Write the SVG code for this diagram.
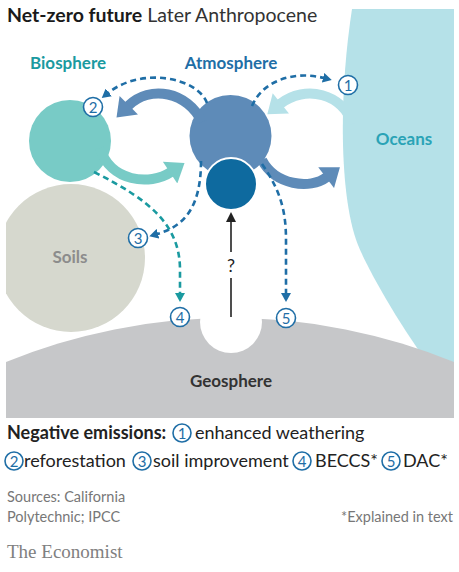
<svg xmlns="http://www.w3.org/2000/svg" width="459" height="572" viewBox="0 0 459 572">
<style>
.t{font-family:Lato,"Open Sans","Liberation Sans",sans-serif}
.lbl{font-size:17px;font-weight:700}
.num{font-family:Lato,"Open Sans","Liberation Sans",sans-serif;font-size:15px;fill:#1f6ea6;text-anchor:middle}
.nc{fill:#fff;stroke:#1f6ea6;stroke-width:1.6}
.solid{fill:none;stroke-width:10}
.dash{fill:none;stroke-width:2.6;stroke-dasharray:6 4}
.leg{font-size:18px;fill:#222}
.src{font-size:14.5px;fill:#777}
</style>
<defs>
<clipPath id="pic"><rect x="6" y="9" width="448" height="409"/></clipPath>
<marker id="hSteel" markerUnits="userSpaceOnUse" markerWidth="20" markerHeight="26" refX="1" refY="12" orient="auto" viewBox="0 0 16 24"><path d="M0,0 L16,12 L0,24 z" fill="#5e8bb8"/></marker>
<marker id="hTeal" markerUnits="userSpaceOnUse" markerWidth="20" markerHeight="26" refX="1" refY="12" orient="auto" viewBox="0 0 16 24"><path d="M0,0 L16,12 L0,24 z" fill="#78cbc6"/></marker>
<marker id="hLight" markerUnits="userSpaceOnUse" markerWidth="20" markerHeight="26" refX="1" refY="12" orient="auto" viewBox="0 0 16 24"><path d="M0,0 L16,12 L0,24 z" fill="#b5e1e8"/></marker>
<marker id="dBlue" markerUnits="userSpaceOnUse" markerWidth="9" markerHeight="10" refX="1" refY="5" orient="auto" viewBox="0 0 9 10"><path d="M0,0 L9,5 L0,10 z" fill="#1f6ea6"/></marker>
<marker id="dTeal" markerUnits="userSpaceOnUse" markerWidth="9" markerHeight="10" refX="1" refY="5" orient="auto" viewBox="0 0 9 10"><path d="M0,0 L9,5 L0,10 z" fill="#1a9aa0"/></marker>
<marker id="dBlack" markerUnits="userSpaceOnUse" markerWidth="10" markerHeight="10" refX="1" refY="5" orient="auto" viewBox="0 0 10 10"><path d="M0,0 L10,5 L0,10 z" fill="#222"/></marker>
</defs>

<text class="t" x="7" y="22" font-size="19.5"><tspan font-weight="700" fill="#1a1a1a">Net-zero future</tspan><tspan fill="#333"> Later Anthropocene</tspan></text>

<g clip-path="url(#pic)">
  <g id="oceans">
    <path d="M352,9 C338,100 340,200 358,245 C366,265 395,320 440,380 L454,380 L454,9 Z" fill="#b5e1e8"/>
  </g>
  <g id="soils">
    <circle cx="71" cy="258" r="74" fill="#d6d8ce"/>
  </g>
  <g id="geosphere">
    <circle cx="230" cy="910" r="592" fill="#c6c7c9"/>
    <circle cx="231" cy="322" r="31" fill="#fff"/>
  </g>
</g>

<g id="biosphere">
  <circle cx="70" cy="141" r="41" fill="#78cbc6"/>
</g>
<g id="atmosphere">
  <circle cx="230.5" cy="136" r="41" fill="#5e8bb8"/>
</g>
<g id="ocean-carbon">
  <circle cx="231" cy="184" r="26" fill="#0e6a9f" stroke="#fff" stroke-width="2"/>
</g>

<g id="connectors">
  <path class="solid" stroke="#5e8bb8" d="M202,122 C188,92 150,84 128,106" marker-end="url(#hSteel)"/>
  <path class="solid" stroke="#b5e1e8" d="M352,124 C344,94 305,84 280,104" marker-end="url(#hLight)"/>
  <path class="solid" stroke="#78cbc6" d="M100,148 C110,182 150,186 171,172" marker-end="url(#hTeal)"/>
  <path class="solid" stroke="#5e8bb8" d="M262,160 C275,185 310,190 327,177" marker-end="url(#hSteel)"/>

  <path class="dash" stroke="#1f6ea6" d="M252,106 C262,82 292,70 324,78" marker-end="url(#dBlue)"/>
  <path class="dash" stroke="#1f6ea6" d="M207,103 C198,78 142,66 108,93" marker-end="url(#dBlue)"/>
  <path class="dash" stroke="#1f6ea6" d="M201,161 C201,205 186,226 157,234" marker-end="url(#dBlue)"/>
  <path class="dash" stroke="#1a9aa0" d="M94,172 C150,200 180,225 180,270 L180,294" marker-end="url(#dTeal)"/>
  <path class="dash" stroke="#1f6ea6" d="M262,164 C280,190 286,210 286,240 L286,294" marker-end="url(#dBlue)"/>

  <path d="M231,317 L231,278" stroke="#222" stroke-width="1.6" fill="none"/>
  <path d="M231,252 L231,221" stroke="#222" stroke-width="1.6" fill="none" marker-end="url(#dBlack)"/>
  <text class="t" x="231" y="272" font-size="18" text-anchor="middle" fill="#222">?</text>
</g>

<g id="labels">
  <text class="t lbl" x="30" y="69" fill="#1a9aa0">Biosphere</text>
  <text class="t lbl" x="231" y="69" fill="#1f6ea6" text-anchor="middle">Atmosphere</text>
  <text class="t lbl" x="404" y="145" fill="#2aa3b6" text-anchor="middle">Oceans</text>
  <text class="t" x="70" y="263" font-size="17" font-weight="700" fill="#8c8c8c" text-anchor="middle">Soils</text>
  <text class="t" x="231" y="387" font-size="17" font-weight="700" fill="#333" text-anchor="middle">Geosphere</text>
</g>

<g id="n1"><circle class="nc" cx="348" cy="85" r="9.5"/><text class="num" x="348" y="90.5">1</text></g>
<g id="n2"><circle class="nc" cx="93" cy="107" r="9.5"/><text class="num" x="93" y="112.5">2</text></g>
<g id="n3"><circle class="nc" cx="138" cy="238" r="9.5"/><text class="num" x="138" y="243.5">3</text></g>
<g id="n4"><circle class="nc" cx="180" cy="317" r="9.5"/><text class="num" x="180" y="322.5">4</text></g>
<g id="n5"><circle class="nc" cx="286" cy="318" r="9.5"/><text class="num" x="286" y="323.5">5</text></g>

<g id="legend">
  <text class="t leg" x="7" y="439" font-weight="700">Negative emissions:</text>
  <circle class="nc" cx="182" cy="433" r="9"/><text class="num" x="182" y="438.5">1</text>
  <text class="t leg" x="195" y="439">enhanced weathering</text>
  <circle class="nc" cx="14" cy="461" r="9"/><text class="num" x="14" y="466.5">2</text>
  <text class="t leg" x="24" y="467">reforestation</text>
  <circle class="nc" cx="142" cy="461" r="9"/><text class="num" x="142" y="466.5">3</text>
  <text class="t leg" x="153" y="467">soil improvement</text>
  <circle class="nc" cx="302" cy="461" r="9"/><text class="num" x="302" y="466.5">4</text>
  <text class="t leg" x="315" y="467">BECCS*</text>
  <circle class="nc" cx="391" cy="461" r="9"/><text class="num" x="391" y="466.5">5</text>
  <text class="t leg" x="403" y="467">DAC*</text>
</g>

<g id="footer">
  <text class="t src" x="7" y="502">Sources: California</text>
  <text class="t src" x="7" y="522">Polytechnic; IPCC</text>
  <text class="t src" x="453" y="522" text-anchor="end">*Explained in text</text>
  <text x="7" y="558" font-family="'Liberation Serif','DejaVu Serif',serif" font-size="19" fill="#808080">The Economist</text>
</g>
</svg>
